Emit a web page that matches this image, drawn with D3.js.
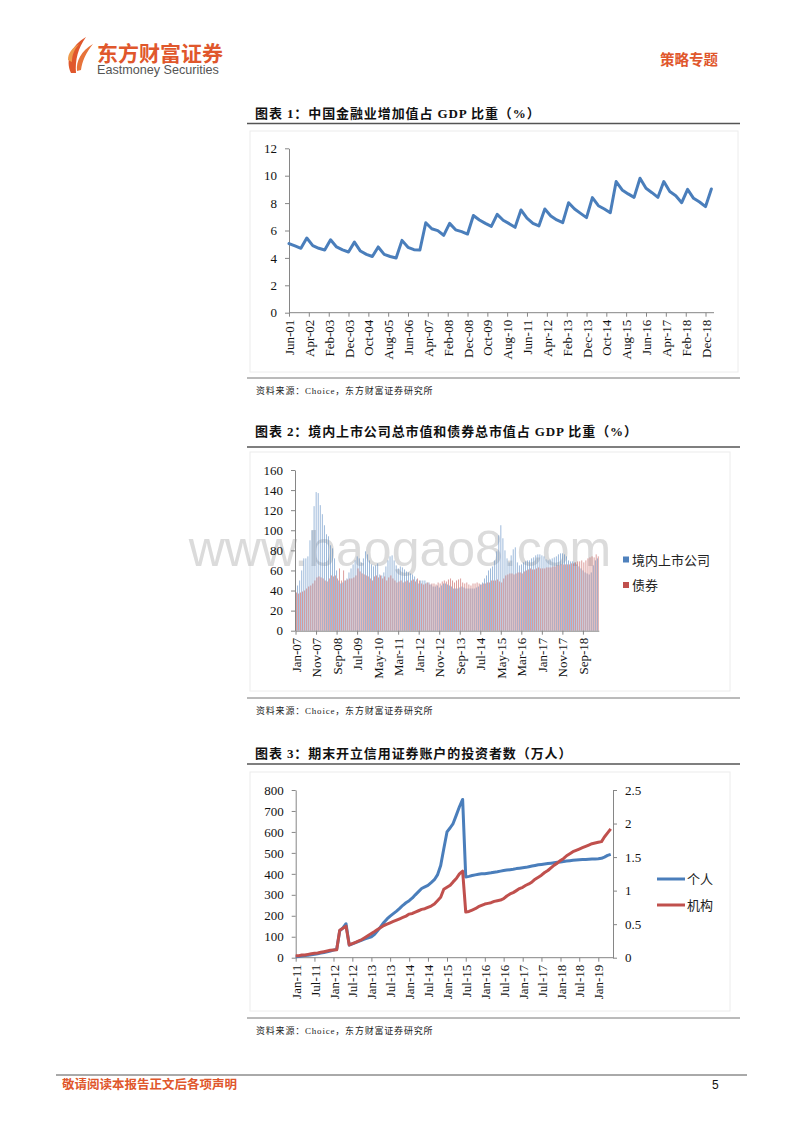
<!DOCTYPE html>
<html><head><meta charset="utf-8">
<script src="https://cdn.jsdelivr.net/npm/d3@7"></script>
<style>
body{margin:0;background:#fff;}
svg{display:block;}
</style></head><body>
<svg id="page" width="800" height="1132"></svg>
<script>
// ---------------- DATA ----------------
// Chart 1: quarterly, starting Jun-01
const c1Start = "2001-06";
const c1Values = [
  5.05, 4.87, 4.70,
  5.45, 4.90, 4.70, 4.58,
  5.32, 4.80, 4.58, 4.43,
  5.15, 4.50, 4.26, 4.10,
  4.80, 4.26, 4.10, 3.99,
  5.28, 4.77, 4.60, 4.58,
  6.57, 6.13, 5.99, 5.65,
  6.52, 6.05, 5.92, 5.74,
  7.10, 6.77, 6.52, 6.30,
  7.18, 6.75, 6.50, 6.23,
  7.50, 6.90, 6.52, 6.33,
  7.57, 7.06, 6.77, 6.57,
  8.03, 7.57, 7.25, 6.94,
  8.40, 7.81, 7.57, 7.30,
  9.57, 8.96, 8.67, 8.42,
  9.81, 9.08, 8.76, 8.42,
  9.57, 8.84, 8.54, 8.03,
  9.00, 8.35, 8.08, 7.74,
  9.03
];
const c1TickLabels = ["Jun-01","Apr-02","Feb-03","Dec-03","Oct-04","Aug-05","Jun-06","Apr-07","Feb-08","Dec-08","Oct-09","Aug-10","Jun-11","Apr-12","Feb-13","Dec-13","Oct-14","Aug-15","Jun-16","Apr-17","Feb-18","Dec-18"];
const c1YTicks = [0,2,4,6,8,10,12];

// Chart 2: monthly, Jan-07 .. Apr-19
const c2Start = "2007-01";
const c2Series = ["境内上市公司","债券"];
const c2Stock = [
  42, 45, 50, 60, 72, 72, 74, 90, 100, 124, 138, 137,
  125, 116, 105, 96, 94, 85, 82, 72, 60, 50, 47, 48,
  50, 52, 58, 62, 66, 70, 74, 72, 68, 72, 79, 76,
  70, 66, 64, 65, 67, 56, 55, 58, 64, 70, 74, 75,
  70, 65, 62, 64, 63, 61, 59, 58, 57, 56, 54, 51,
  47, 50, 50, 50, 48, 48, 46, 44, 44, 45, 43, 45,
  47, 47, 46, 45, 44, 42, 42, 42, 43, 44, 43, 42,
  42, 42, 42, 42, 43, 44, 46, 48, 52, 55, 60, 62,
  64, 70, 79, 95, 105, 92, 80, 72, 68, 75, 81, 83,
  68, 65, 66, 68, 69, 70, 70, 72, 73, 75, 76, 76,
  75, 74, 71, 70, 71, 72, 73, 74, 76, 77, 77, 76,
  74, 70, 69, 69, 68, 66, 64, 62, 60, 58, 57, 56,
  58, 65, 70, 72
];
const c2Bond = [
  38, 37, 38, 39, 40, 42, 44, 45, 47, 50, 53, 54,
  53, 52, 50, 49, 52, 55, 54, 55, 52, 62, 50, 60,
  50, 51, 52, 52, 53, 55, 62, 59, 57, 56, 55, 54,
  52, 50, 54, 55, 53, 55, 52, 54, 50, 53, 55, 52,
  50, 48, 49, 50, 48, 49, 50, 48, 50, 51, 49, 52,
  50, 47, 46, 47, 48, 46, 47, 47, 46, 48, 47, 49,
  50, 49, 51, 52, 50, 48, 50, 51, 52, 48, 47, 48,
  46, 45, 47, 47, 48, 47, 46, 47, 47, 48, 48, 50,
  50, 50, 51, 49, 48, 52, 55, 56, 57, 57, 56, 57,
  58, 58, 57, 59, 60, 61, 62, 61, 61, 62, 63, 62,
  62, 62, 63, 63, 63, 64, 64, 65, 65, 66, 66, 66,
  66, 66, 67, 67, 68, 69, 69, 70, 68, 70, 72, 73,
  74, 73, 76, 74
];
const c2TickLabels = ["Jan-07","Nov-07","Sep-08","Jul-09","May-10","Mar-11","Jan-12","Nov-12","Sep-13","Jul-14","May-15","Mar-16","Jan-17","Nov-17","Sep-18"];
const c2YTicks = [0,20,40,60,80,100,120,140,160];

// Chart 3: monthly, Jan-11 .. May-19
const c3Start = "2011-01";
const c3Series = ["个人","机构"];
const c3Person = [ // left axis
  5, 6, 8, 10, 12, 14, 16, 19, 22, 25, 28, 32,
  36, 40, 128, 142, 162, 60, 66, 72, 78, 84, 90, 95,
  100, 112, 128, 148, 168, 185, 198, 210, 222, 235, 250, 262,
  272, 285, 300, 315, 330, 338, 345, 358, 372, 395, 440, 520,
  600, 620, 640, 680, 720, 755, 385, 388, 392, 395, 398, 400,
  401, 403, 405, 408, 410, 413, 416, 418, 420, 422, 425, 427,
  429, 431, 434, 437, 440, 443, 445, 447, 449, 451, 453, 455,
  457, 459, 461, 463, 465, 466, 467, 468, 469, 470, 471, 471,
  472, 474, 480, 488, 493
];
const c3Inst = [ // right axis
  0.03, 0.03, 0.04, 0.04, 0.05, 0.06, 0.065, 0.07, 0.08, 0.09, 0.10, 0.11,
  0.115, 0.12, 0.41, 0.44, 0.47, 0.19, 0.21, 0.23, 0.25, 0.27, 0.30, 0.33,
  0.36, 0.39, 0.42, 0.45, 0.48, 0.50, 0.52, 0.54, 0.56, 0.58, 0.60, 0.62,
  0.65, 0.66, 0.68, 0.70, 0.72, 0.73, 0.75, 0.77, 0.80, 0.85, 0.90, 1.02,
  1.05, 1.08, 1.13, 1.18, 1.25, 1.29, 0.68, 0.69, 0.71, 0.73, 0.76, 0.78,
  0.80, 0.81, 0.82, 0.84, 0.85, 0.86, 0.88, 0.92, 0.95, 0.97, 1.00, 1.03,
  1.05, 1.08, 1.10, 1.13, 1.17, 1.20, 1.23, 1.27, 1.30, 1.34, 1.38, 1.41,
  1.45, 1.48, 1.52, 1.55, 1.58, 1.60, 1.62, 1.64, 1.66, 1.68, 1.70, 1.71,
  1.72, 1.73, 1.80, 1.86, 1.92
];
const c3TickLabels = ["Jan-11","Jul-11","Jan-12","Jul-12","Jan-13","Jul-13","Jan-14","Jul-14","Jan-15","Jul-15","Jan-16","Jul-16","Jan-17","Jul-17","Jan-18","Jul-18","Jan-19"];
const c3YLeftTicks = [0,100,200,300,400,500,600,700,800];
const c3YRightTicks = [0,0.5,1,1.5,2,2.5];

// Texts
const titles = [
  "图表 1：中国金融业增加值占 GDP 比重（%）",
  "图表 2：境内上市公司总市值和债券总市值占 GDP 比重（%）",
  "图表 3：期末开立信用证券账户的投资者数（万人）"
];
const sourceText = "资料来源：Choice，东方财富证券研究所";

// ---------------- DRAW ----------------
const svg = d3.select("#page");
const ORANGE = "#E0572C";
const BLUE = "#4A7EBB";
const RED = "#C0504D";
const AXIS = "#868686";
const SERIF = "'Liberation Serif','Times New Roman',serif";
const MIX = "'Liberation Serif','Noto Sans CJK SC',serif";
const CJK = "'Noto Sans CJK SC',sans-serif";
const parseYM = d3.timeParse("%Y-%m");
const parseTick = d3.timeParse("%b-%y");
const fmtTick = d3.timeFormat("%b-%y");

svg.append("rect").attr("width",800).attr("height",1132).attr("fill","#fff");

// Header
const logo = svg.append("g");
logo.append("path").attr("d","M71,73 C65,60 71,46 86,37 C78,48 75,60 76,73 Z").attr("fill",ORANGE);
logo.append("path").attr("d","M77,71 C76,61 81,51 93,44 C86,53 82,61 81,70 Z").attr("fill","#E7733A");
logo.append("path").attr("d","M68,60 C68,53 72,48 79,44 C74,50 72,55 72,62 Z").attr("fill","#EE9A4C");
svg.append("text").attr("x",97).attr("y",60.5).attr("font-family",CJK).attr("font-weight","bold")
  .attr("font-size",21).attr("fill",ORANGE).text("东方财富证券");
svg.append("text").attr("x",97).attr("y",73.5).attr("font-family","'Liberation Sans',Arial,sans-serif")
  .attr("font-size",12.6).attr("fill","#555").text("Eastmoney Securities");
svg.append("text").attr("x",660).attr("y",65).attr("font-family",CJK).attr("font-weight","bold")
  .attr("font-size",14.5).attr("fill",ORANGE).text("策略专题");

function sectionTitle(text, y, lineY) {
  svg.append("text").attr("x",255).attr("y",y).attr("font-family",MIX).attr("font-weight","bold")
    .attr("font-size",13).attr("letter-spacing",0.9).attr("fill","#111").text(text);
  svg.append("line").attr("x1",247).attr("x2",740).attr("y1",lineY).attr("y2",lineY)
    .attr("stroke","#555").attr("stroke-width",1.5);
}
function sourceNote(lineY, textY) {
  svg.append("line").attr("x1",247).attr("x2",740).attr("y1",lineY).attr("y2",lineY)
    .attr("stroke","#777").attr("stroke-width",1);
  svg.append("text").attr("x",256).attr("y",textY).attr("font-family",MIX)
    .attr("font-size",9).attr("letter-spacing",0.8).attr("fill","#222").text(sourceText);
}
function frame(x0,y0,x1,y1){
  svg.append("rect").attr("x",x0).attr("y",y0).attr("width",x1-x0).attr("height",y1-y0)
    .attr("fill","none").attr("stroke","#ececec").attr("stroke-width",1);
}
function styleAxis(g, fontSize) {
  g.select(".domain").attr("stroke",AXIS).attr("stroke-width",1);
  g.selectAll(".tick line").attr("stroke",AXIS);
  g.selectAll(".tick text").attr("font-family",SERIF).attr("font-size",fontSize).attr("fill","#111");
}
function rotLabels(g, off) {
  g.selectAll(".tick text").attr("transform","rotate(-90)").attr("text-anchor","end")
    .attr("x",-off).attr("y",0).attr("dy","0.35em");
}

// ---------- Chart 1 ----------
sectionTitle(titles[0], 118, 123.5);
frame(250,131,738,372);
const c1Data = c1Values.map((v,i)=>({date:d3.timeMonth.offset(parseYM(c1Start),3*i), v}));
const x1 = d3.scaleTime().domain([parseTick("Jun-01"), parseTick("Dec-18")]).range([289, 705.5]);
const y1 = d3.scaleLinear().domain([0,12]).range([312.7,148.3]);
const c1Right = 714;
const gx1 = svg.append("g").attr("transform","translate(0,312.7)")
  .call(d3.axisBottom(x1).tickValues(c1TickLabels.map(parseTick)).tickFormat(fmtTick).tickSize(4).tickSizeOuter(0));
gx1.select(".domain").attr("d",`M${x1.range()[0]},0H${c1Right}`);
styleAxis(gx1,13); rotLabels(gx1,7);
const gy1 = svg.append("g").attr("transform","translate(289,0)")
  .call(d3.axisLeft(y1).tickValues(c1YTicks).tickSize(4).tickPadding(8).tickSizeOuter(0));
styleAxis(gy1,13);
svg.append("path").datum(c1Data)
  .attr("d", d3.line().x(d=>x1(d.date)).y(d=>y1(d.v)))
  .attr("fill","none").attr("stroke",BLUE).attr("stroke-width",3).attr("stroke-linejoin","round").attr("stroke-linecap","round");
sourceNote(378, 394);

// ---------- Chart 2 ----------
sectionTitle(titles[1], 436, 447);
frame(250,452,730,691);
const c2Months = c2Stock.map((v,i)=>d3.timeMonth.offset(parseYM(c2Start),i));
const xb = d3.scaleBand().domain(c2Months.map(d=>+d)).range([295, 598.8]).paddingInner(0).paddingOuter(0);
const y2 = d3.scaleLinear().domain([0,160]).range([630.7,470]);
const bw = xb.bandwidth();
// watermark (behind-ish, light)
svg.append("text").attr("x",400).attr("y",566).attr("text-anchor","middle")
  .attr("font-family","'Liberation Sans',Arial,sans-serif").attr("font-size",50)
  .attr("fill","#b8b8b8").attr("fill-opacity",0.5).text("www.baogao8.com");
const bars = svg.append("g");
bars.selectAll("rect.s").data(c2Months).join("rect").attr("class","s")
  .attr("x",(d)=>xb(+d)+bw*0.1).attr("width",bw*0.38)
  .attr("y",(d,i)=>y2(c2Stock[i])).attr("height",(d,i)=>y2(0)-y2(c2Stock[i]))
  .attr("fill","#4F81BD").attr("fill-opacity",0.7);
bars.selectAll("rect.b").data(c2Months).join("rect").attr("class","b")
  .attr("x",(d)=>xb(+d)+bw*0.52).attr("width",bw*0.38)
  .attr("y",(d,i)=>y2(c2Bond[i])).attr("height",(d,i)=>y2(0)-y2(c2Bond[i]))
  .attr("fill",RED).attr("fill-opacity",0.7);
const gx2 = svg.append("g").attr("transform","translate(0,630.7)")
  .call(d3.axisBottom(xb).tickValues(c2TickLabels.map(s=>+parseTick(s))).tickFormat(d=>fmtTick(new Date(d))).tickSize(4).tickSizeOuter(0));
styleAxis(gx2,13); rotLabels(gx2,7);
const gy2 = svg.append("g").attr("transform","translate(295,0)")
  .call(d3.axisLeft(y2).tickValues(c2YTicks).tickSize(4).tickPadding(8).tickSizeOuter(0));
styleAxis(gy2,13);
// legend
const lg2 = svg.append("g");
[0,1].forEach(i=>{
  lg2.append("rect").attr("x",623).attr("y",556.5+i*25.5).attr("width",6).attr("height",6).attr("fill",i?RED:"#4F81BD");
  lg2.append("text").attr("x",632).attr("y",564.5+i*25.5).attr("font-family",CJK).attr("font-size",13)
    .attr("fill","#222").text(c2Series[i]);
});
sourceNote(698, 714);

// ---------- Chart 3 ----------
sectionTitle(titles[2], 758, 764);
frame(250,772,730,1011);
const c3Months = c3Person.map((v,i)=>d3.timeMonth.offset(parseYM(c3Start),i));
const x3 = d3.scaleTime().domain([parseTick("Jan-11"), parseTick("Jan-19")]).range([295.7, 598.3]);
const y3L = d3.scaleLinear().domain([0,800]).range([957.7,790]);
const y3R = d3.scaleLinear().domain([0,2.5]).range([957.7,790]);
const c3Right = 613;
const gx3 = svg.append("g").attr("transform","translate(0,957.7)")
  .call(d3.axisBottom(x3).tickValues(c3TickLabels.map(parseTick)).tickFormat(fmtTick).tickSize(4).tickSizeOuter(0));
gx3.select(".domain").attr("d",`M${x3.range()[0]},0H${c3Right}`);
styleAxis(gx3,13); rotLabels(gx3,7);
const gy3 = svg.append("g").attr("transform","translate(295.7,0)")
  .call(d3.axisLeft(y3L).tickValues(c3YLeftTicks).tickSize(4).tickPadding(8).tickSizeOuter(0));
styleAxis(gy3,13);
const gy3r = svg.append("g").attr("transform",`translate(${c3Right},0)`)
  .call(d3.axisRight(y3R).tickValues(c3YRightTicks).tickFormat(d3.format("")).tickSize(4).tickPadding(8).tickSizeOuter(0));
styleAxis(gy3r,13);
svg.append("path").datum(c3Person)
  .attr("d", d3.line().x((d,i)=>x3(c3Months[i])).y(d=>y3L(d)))
  .attr("fill","none").attr("stroke",BLUE).attr("stroke-width",3).attr("stroke-linejoin","round");
svg.append("path").datum(c3Inst)
  .attr("d", d3.line().x((d,i)=>x3(c3Months[i])).y(d=>y3R(d)))
  .attr("fill","none").attr("stroke",RED).attr("stroke-width",3).attr("stroke-linejoin","round");
const lg3 = svg.append("g");
[BLUE, RED].forEach((c,i)=>{
  lg3.append("line").attr("x1",657).attr("x2",685).attr("y1",879+i*26).attr("y2",879+i*26)
    .attr("stroke",c).attr("stroke-width",3);
  lg3.append("text").attr("x",687).attr("y",884+i*26).attr("font-family",CJK).attr("font-size",13)
    .attr("fill","#222").text(c3Series[i]);
});
sourceNote(1018, 1034);

// Footer
svg.append("line").attr("x1",56).attr("x2",747).attr("y1",1075).attr("y2",1075).attr("stroke","#555").attr("stroke-width",1);
svg.append("text").attr("x",62).attr("y",1089).attr("font-family",CJK).attr("font-weight","bold")
  .attr("font-size",12.5).attr("fill",ORANGE).text("敬请阅读本报告正文后各项声明");
svg.append("text").attr("x",712).attr("y",1089).attr("font-family","'Liberation Sans',Arial,sans-serif")
  .attr("font-size",12).attr("fill","#111").text("5");
</script>
</body></html>
